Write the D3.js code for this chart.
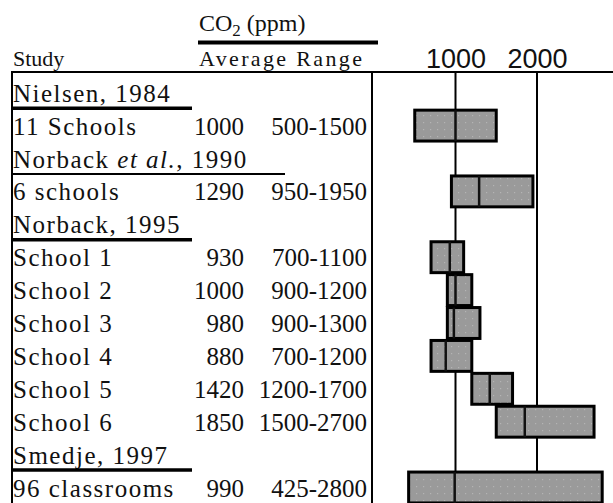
<!DOCTYPE html>
<html>
<head>
<meta charset="utf-8">
<script src="https://cdn.jsdelivr.net/npm/d3@7"></script>
<style>
  body { margin: 0; background: #fff; }
  svg text { font-family: "Liberation Serif", "Times New Roman", serif; fill: #111; }
  .tick-label { font-family: "Liberation Sans", Arial, sans-serif; }
</style>
</head>
<body>
<div id="chart"></div>
<script>
"use strict";

// rows of the table, top to bottom
var rowLabels = ["Nielsen, 1984", "11 Schools", "Norback et al., 1990", "6 schools",
    "Norback, 1995", "School 1", "School 2", "School 3", "School 4", "School 5",
    "School 6", "Smedje, 1997", "96 classrooms"];
var isStudy = [true, false, true, false, true, false, false, false, false, false, false, true, false];
var averages = [null, 1000, null, 1290, null, 930, 1000, 980, 880, 1420, 1850, null, 990];
var rangeLow = [null, 500, null, 950, null, 700, 900, 900, 700, 1200, 1500, null, 425];
var rangeHigh = [null, 1500, null, 1950, null, 1100, 1200, 1300, 1200, 1700, 2700, null, 2800];
var xTicks = [1000, 2000];

var width = 613;
var height = 503;

var svg = d3.select("#chart").append("svg")
    .attr("width", width)
    .attr("height", height);

// dotted grey fill for the bars
var pattern = svg.append("defs").append("pattern")
    .attr("id", "dots")
    .attr("patternUnits", "userSpaceOnUse")
    .attr("width", 7)
    .attr("height", 7);
pattern.append("rect").attr("width", 7).attr("height", 7).attr("fill", "#9a9a9a");
pattern.append("rect").attr("x", 3).attr("y", 3).attr("width", 1.2).attr("height", 1.2).attr("fill", "#b4b4b4");

var rows = rowLabels.map(function(d, i) {
    return { label: d, study: isStudy[i], avg: averages[i], lo: rangeLow[i], hi: rangeHigh[i], i: i };
});

var x = d3.scaleLinear().domain([0, 2000]).range([374, 537]);
var step = 32.9;
var y = d3.scalePoint()
    .domain(d3.range(rows.length))
    .range([92.7, 92.7 + step * (rows.length - 1)]);

var topY = 72;

// header
var co2 = svg.append("text").attr("x", 199).attr("y", 31).style("font-size", "24px");
co2.append("tspan").text("CO");
co2.append("tspan").attr("dy", 5).style("font-size", "17px").text("2");
co2.append("tspan").attr("dy", -5).text(" (ppm)");
svg.append("line").attr("x1", 198).attr("x2", 378).attr("y1", 42.5).attr("y2", 42.5)
    .attr("stroke", "#000").attr("stroke-width", 4);
svg.append("text").attr("x", 13).attr("y", 66).style("font-size", "22px").text("Study");
svg.append("text").attr("x", 199).attr("y", 66).style("font-size", "22px")
    .attr("textLength", 163).text("Average Range");

// frame lines
svg.append("line").attr("x1", 11).attr("x2", width).attr("y1", topY).attr("y2", topY)
    .attr("stroke", "#000").attr("stroke-width", 2);
svg.append("line").attr("x1", 12).attr("x2", 12).attr("y1", topY).attr("y2", height)
    .attr("stroke", "#000").attr("stroke-width", 2);
svg.append("line").attr("x1", 372).attr("x2", 372).attr("y1", topY).attr("y2", height)
    .attr("stroke", "#000").attr("stroke-width", 2);

// axis labels on top
var axis = svg.append("g")
    .attr("transform", "translate(0," + 68 + ")")
    .call(d3.axisTop(x).tickValues(xTicks).tickSize(0).tickPadding(0).tickFormat(d3.format("d")));
axis.select(".domain").remove();
axis.selectAll("text")
    .attr("class", "tick-label")
    .style("font-size", "27px")
    .attr("fill", "#111");

// gridlines
svg.append("g").selectAll("line")
    .data(xTicks)
    .enter()
    .append("line")
    .attr("x1", function(d) { return x(d); })
    .attr("x2", function(d) { return x(d); })
    .attr("y1", topY)
    .attr("y2", height)
    .attr("stroke", "#000")
    .attr("stroke-width", 2);

// bars
var bars = rows.filter(function(d) { return !d.study; });
svg.append("g").selectAll("rect")
    .data(bars)
    .enter()
    .append("rect")
    .attr("x", function(d) { return x(d.lo); })
    .attr("y", function(d) { return y(d.i) - step / 2 + 1; })
    .attr("width", function(d) { return x(d.hi) - x(d.lo); })
    .attr("height", step - 2)
    .attr("fill", "url(#dots)")
    .attr("stroke", "#000")
    .attr("stroke-width", 3);

svg.append("g").selectAll("line")
    .data(bars)
    .enter()
    .append("line")
    .attr("x1", function(d) { return x(d.avg); })
    .attr("x2", function(d) { return x(d.avg); })
    .attr("y1", function(d) { return y(d.i) - step / 2 + 1; })
    .attr("y2", function(d) { return y(d.i) + step / 2 - 1; })
    .attr("stroke", "#111")
    .attr("stroke-width", 2.5);

// table text
var labels = svg.append("g").selectAll("text")
    .data(rows)
    .enter()
    .append("text")
    .attr("x", 13)
    .attr("y", function(d) { return y(d.i) + 9; })
    .style("font-size", "25px")
    .style("letter-spacing", "1.5px");
labels.each(function(d) {
    var t = d3.select(this);
    var m = d.label.match(/^(.*)(et al\.)(.*)$/);
    if (m) {
        t.append("tspan").text(m[1]);
        t.append("tspan").style("font-style", "italic").text(m[2]);
        t.append("tspan").text(m[3]);
    } else {
        t.text(d.label);
    }
});

svg.append("g").selectAll("text")
    .data(bars)
    .enter()
    .append("text")
    .attr("x", 244)
    .attr("y", function(d) { return y(d.i) + 9; })
    .attr("text-anchor", "end")
    .style("font-size", "25px")
    .text(function(d) { return d.avg; });

svg.append("g").selectAll("text")
    .data(bars)
    .enter()
    .append("text")
    .attr("x", 367)
    .attr("y", function(d) { return y(d.i) + 9; })
    .attr("text-anchor", "end")
    .style("font-size", "25px")
    .text(function(d) { return d.lo + "-" + d.hi; });

// underlines below each study name
svg.append("g").selectAll("line")
    .data(rows.filter(function(d) { return d.study; }))
    .enter()
    .append("line")
    .attr("x1", 11)
    .attr("x2", function(d) { return d.label.indexOf("et al") >= 0 ? 285 : 192; })
    .attr("y1", function(d) { return y(d.i) + step / 2 - 1; })
    .attr("y2", function(d) { return y(d.i) + step / 2 - 1; })
    .attr("stroke", "#000")
    .attr("stroke-width", function(d) { return d.label.indexOf("et al") >= 0 ? 2 : 3.5; });
</script>
</body>
</html>
